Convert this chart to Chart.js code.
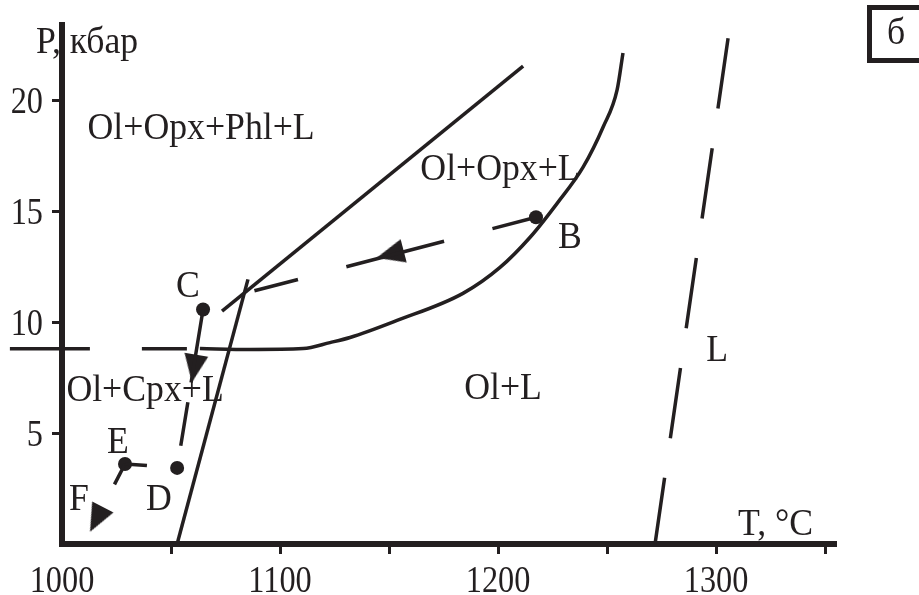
<!DOCTYPE html>
<html>
<head>
<meta charset="utf-8">
<script src="https://cdn.jsdelivr.net/npm/chart.js@4.4.0/dist/chart.umd.min.js"></script>
<style>
    html, body { margin: 0; padding: 0; background: #fff; }
    #wrap { width: 919px; height: 595px; }
</style>
</head>
<body>
<div id="wrap"><canvas id="chart"></canvas></div>
<script>
// Values: T in °C, P in kbar
const phlOutT = [1073.4, 1211.5];
const phlOutP = [10.5, 21.55];

const solidusT = [1052.8, 1085.3];
const solidusP = [0, 11.93];

const opxLiqT = [1063.3, 1086.2, 1110.6, 1122.9, 1132.1, 1153.7, 1183.9, 1200.9, 1214.7, 1227.1, 1239.0, 1248.2, 1254.6, 1257.3];
const opxLiqP = [8.81, 8.77, 8.81, 9.08, 9.31, 10.08, 11.30, 12.47, 13.83, 15.36, 16.99, 18.80, 20.47, 22.14];

const cpxT = [976.1, 1063.3];
const cpxP = [8.8, 8.8];

const liquidusT = [1305.5, 1272];
const liquidusP = [22.8, 0];

// path points B, C, D, E (dots), junction J and end F
const dotT = [1217.4, 1064.7, 1052.8, 1028.9];
const dotP = [14.73, 10.57, 3.43, 3.61];
const junctionT = 1085.3;
const junctionP = 11.34;
const endT = 1015.8;
const endP = 1.11;

// arrow heads on the path
const arrowT = [1150.5, 1060.6, 1015.8];
const arrowP = [13.06, 7.91, 1.11];

const xTicks = [1000, 1100, 1200, 1300];
const yTicks = [5, 10, 15, 20];

const regionLabels = ['Ol+Opx+Phl+L', 'Ol+Opx+L', 'Ol+Cpx+L', 'Ol+L', 'L'];
const regionT = [1063.8, 1200.9, 1038.1, 1202.3, 1300.5];
const regionP = [18.7, 16.85, 6.91, 7.0, 8.72];

const pointLabels = ['B', 'C', 'D', 'E', 'F'];
const pointLabelT = [1233, 1057.8, 1044.5, 1025.7, 1007.8];
const pointLabelP = [13.78, 11.57, 1.99, 4.56, 1.99];

const INK = '#231f20';
const FONT = '"Liberation Serif", "Times New Roman", serif';

const pts = (xs, ys) => xs.map((x, i) => ({ x: x, y: ys[i] }));
const B = { x: dotT[0], y: dotP[0] };
const C = { x: dotT[1], y: dotP[1] };
const D = { x: dotT[2], y: dotP[2] };
const E = { x: dotT[3], y: dotP[3] };
const J = { x: junctionT, y: junctionP };
const F = { x: endT, y: endP };
const arrowDirs = [[B, J], [C, D], [E, F]];

function makeArrow(w, h) {
    const c = document.createElement('canvas');
    c.width = w;
    c.height = h;
    const g = c.getContext('2d');
    g.fillStyle = INK;
    g.beginPath();
    g.moveTo(w / 2, 0);
    g.lineTo(w, h);
    g.lineTo(0, h);
    g.closePath();
    g.fill();
    return c;
}
const arrowImg = makeArrow(24, 28);

function line(data, dash, extra) {
    return Object.assign({
        data: data,
        showLine: true,
        borderColor: INK,
        borderWidth: 3.5,
        borderDash: dash || [],
        pointRadius: 0,
        pointHoverRadius: 0,
        tension: 0
    }, extra || {});
}

// the figure's serif text is tall and narrow, so squeeze it horizontally
function text(ctx, str, x, y, squeeze, align, baseline) {
    ctx.save();
    ctx.translate(x, y);
    ctx.scale(squeeze, 1);
    ctx.textAlign = align || 'center';
    ctx.textBaseline = baseline || 'middle';
    ctx.fillText(str, 0, 0);
    ctx.restore();
}

const textPlugin = {
    id: 'texts',
    afterDatasetsDraw(chart) {
        const { ctx, chartArea, scales } = chart;
        const sx = scales.x, sy = scales.y;
        ctx.save();
        // close the corner between the two axis lines
        ctx.fillStyle = INK;
        ctx.fillRect(chartArea.left - 3, chartArea.bottom - 3, 6, 6);

        ctx.font = '38px ' + FONT;
        regionLabels.forEach((t, i) => {
            text(ctx, t, sx.getPixelForValue(regionT[i]), sy.getPixelForValue(regionP[i]), 0.94);
        });
        pointLabels.forEach((t, i) => {
            text(ctx, t, sx.getPixelForValue(pointLabelT[i]), sy.getPixelForValue(pointLabelP[i]), 0.94);
        });

        // tick labels
        xTicks.forEach(v => {
            text(ctx, String(v), sx.getPixelForValue(v), chartArea.bottom + 48, 0.85, 'center', 'alphabetic');
        });
        yTicks.forEach(v => {
            text(ctx, String(v), chartArea.left - 19, sy.getPixelForValue(v) + 13, 0.85, 'right', 'alphabetic');
        });

        // axis titles
        text(ctx, 'P, кбар', chartArea.left - 26, chartArea.top + 28, 0.94, 'left', 'alphabetic');
        text(ctx, 'T, °C', 738, chartArea.bottom - 9, 0.94, 'left', 'alphabetic');

        // panel letter
        ctx.strokeStyle = INK;
        ctx.lineWidth = 5;
        ctx.strokeRect(869.5, 7.5, 60, 53);
        text(ctx, 'б', 896, 44, 0.94, 'center', 'alphabetic');
        ctx.restore();
    }
};

new Chart(document.getElementById('chart'), {
    type: 'scatter',
    data: {
        datasets: [
            line(pts(phlOutT, phlOutP)),
            line(pts(solidusT, solidusP)),
            line(pts(opxLiqT, opxLiqP), [], { cubicInterpolationMode: 'monotone' }),
            line(pts(cpxT, cpxP), [80, 52, 45, 13], { clip: false }),
            line(pts(liquidusT, liquidusP), [71, 40]),
            line([B, J], [45, 50, 101, 50, 45]),
            line([C, D], [74, 20, 44, 200]),
            line([E, D], [22, 200]),
            line([E, F], [23, 200]),
            {
                data: pts(dotT, dotP),
                pointRadius: 7,
                pointHoverRadius: 7,
                pointBackgroundColor: INK,
                pointBorderWidth: 0
            },
            {
                data: pts(arrowT, arrowP),
                pointStyle: arrowImg,
                pointRadius: 14,
                rotation: (ctx) => {
                    const sx = ctx.chart.scales.x, sy = ctx.chart.scales.y;
                    const dir = arrowDirs[ctx.dataIndex];
                    if (!dir) return 0;
                    const dx = sx.getPixelForValue(dir[1].x) - sx.getPixelForValue(dir[0].x);
                    const dy = sy.getPixelForValue(dir[1].y) - sy.getPixelForValue(dir[0].y);
                    return Math.atan2(dx, -dy) * 180 / Math.PI;
                }
            }
        ]
    },
    options: {
        responsive: true,
        maintainAspectRatio: false,
        animation: false,
        layout: { padding: { left: 0, top: 25, right: 83, bottom: 0 } },
        plugins: { legend: { display: false }, tooltip: { enabled: false } },
        scales: {
            x: {
                type: 'linear',
                min: 1000,
                max: 1355,
                afterFit: (s) => { s.height = 51; },
                afterBuildTicks: (s) => {
                    s.ticks = [];
                    for (let v = 1000; v <= 1350; v += 50) s.ticks.push({ value: v });
                },
                ticks: { display: false },
                grid: {
                    drawOnChartArea: false,
                    tickLength: 10,
                    tickWidth: 3,
                    tickColor: (ctx) => (ctx.tick && ctx.tick.value === 1000) ? 'rgba(0,0,0,0)' : INK
                },
                border: { display: true, width: 6, color: INK }
            },
            y: {
                type: 'linear',
                min: 0,
                max: 23.4,
                afterFit: (s) => { s.width = 62; },
                afterBuildTicks: (s) => {
                    s.ticks = yTicks.map(v => ({ value: v }));
                },
                ticks: { display: false },
                grid: {
                    drawOnChartArea: false,
                    tickLength: 10,
                    tickWidth: 3,
                    tickColor: INK
                },
                border: { display: true, width: 6, color: INK }
            }
        }
    },
    plugins: [textPlugin]
});
</script>
</body>
</html>
